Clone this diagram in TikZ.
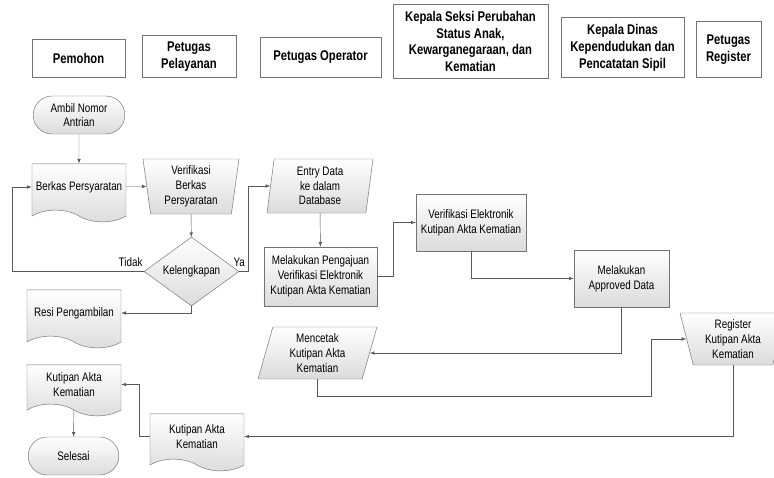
\documentclass[tikz,border=0pt]{standalone}
\usepackage{fontspec}
\setmainfont{Liberation Sans}[FakeStretch=0.8]
\usetikzlibrary{shapes.geometric,shapes.misc,shapes.symbols}
\tikzset{%
  laneHead/.style={rectangle, draw=black!55, fill=white, thick, anchor=south, align=center, inner sep=1pt, font=\fontsize{12}{14.4}\selectfont\bfseries},
  %
  flowShape/.style={draw=black!55, top color=white, bottom color=black!14, align=center, inner sep=1pt, font=\fontsize{10.5}{12.6}\selectfont},
  terminal/.style={flowShape, rounded rectangle},
  processBox/.style={flowShape, rectangle},
  docShape/.style={flowShape, tape, tape bend top=none, tape bend bottom=out and in, tape bend height=10pt},
  manualOp/.style={flowShape, trapezium, shape border rotate=180, trapezium stretches body},
  ioShape/.style={flowShape, trapezium, trapezium stretches body},
  decision/.style={flowShape, diamond, inner sep=0pt},
  % connectors
  flowArrow/.style={draw=black!65, -latex},
  edgeLabel/.style={font=\fontsize{10.5}{12.6}\selectfont, inner sep=1pt}}

\begin{document}
\begin{tikzpicture}[x=0.03cm, y=-0.03cm]
    \useasboundingbox (0,0) rectangle (774,478);

    % lane headers
    \node[laneHead, minimum width=2.79cm, minimum height=1.14cm] (hPemohon) at (78.5,78) {Pemohon};
    \node[laneHead, minimum width=2.82cm, minimum height=1.26cm] (hPelayanan) at (189,78) {Petugas\\Pelayanan};
    \node[laneHead, minimum width=3.63cm, minimum height=1.2cm] (hOperator) at (320.5,78) {Petugas Operator};
    \node[laneHead, minimum width=4.65cm, minimum height=2.22cm] (hSeksi) at (470.5,79) {Kepala Seksi Perubahan\\Status Anak,\\Kewarganegaraan, dan\\Kematian};
    \node[laneHead, minimum width=3.69cm, minimum height=1.8cm] (hDinas) at (622.5,78) {Kepala Dinas\\Kependudukan dan\\Pencatatan Sipil};
    \node[laneHead, minimum width=1.95cm, minimum height=1.68cm] (hRegister) at (728.5,78) {Petugas\\Register};

    % steps
    \node[terminal, minimum width=2.82cm, minimum height=1.14cm] (ambil) at (79,115) {Ambil Nomor\\Antrian};
    \node[docShape, minimum width=2.82cm, minimum height=1.74cm] (berkas) at (79,187) {Berkas Persyaratan};
    \node[manualOp, trapezium left angle=80, trapezium right angle=80, minimum width=2.88cm, minimum height=1.65cm] (verif) at (191,186.5) {Verifikasi\\Berkas\\Persyaratan};
    \node[decision, minimum width=2.85cm, minimum height=1.71cm] (kelengkapan) at (191.5,271.5) {Kelengkapan};
    \node[docShape, minimum width=2.82cm, minimum height=1.74cm] (resi) at (74,313) {Resi Pengambilan};

    \node[ioShape, trapezium left angle=80, trapezium right angle=100, minimum width=3.18cm, minimum height=1.62cm] (entry) at (320,186) {Entry Data\\ke dalam\\Database};
    \node[processBox, minimum width=3.39cm, minimum height=1.77cm] (pengajuan) at (320.5,276.5) {Melakukan Pengajuan\\Verifikasi Elektronik\\Kutipan Akta Kematian};
    \node[processBox, minimum width=3.3cm, minimum height=1.71cm] (verEl) at (471,222.5) {Verifikasi Elektronik\\Kutipan Akta Kematian};
    \node[processBox, minimum width=2.85cm, minimum height=1.71cm] (approved) at (621.5,278.5) {Melakukan\\Approved Data};
    \node[ioShape, trapezium left angle=70, trapezium right angle=110, minimum width=3.57cm, minimum height=1.56cm] (mencetak) at (317.5,353) {Mencetak\\Kutipan Akta\\Kematian};
    \node[manualOp, trapezium left angle=72, trapezium right angle=72, minimum width=3.18cm, minimum height=1.56cm] (register) at (733,339) {Register\\Kutipan Akta\\Kematian};
    \node[docShape, minimum width=2.82cm, minimum height=1.71cm] (kutipanB) at (197,436.5) {Kutipan Akta\\Kematian};
    \node[docShape, minimum width=2.82cm, minimum height=1.53cm] (kutipanA) at (74,384.5) {Kutipan Akta\\Kematian};
    \node[terminal, minimum width=2.79cm, minimum height=1.14cm] (selesai) at (73.5,456) {Selesai};

    \coordinate (tidakX) at (12,187);
    \coordinate (regTurn) at (651,396);

    \draw[flowArrow] (ambil) -- (berkas);
    \draw[flowArrow] (berkas.east |- verif) -- (verif);
    \draw[flowArrow] (verif) -- (kelengkapan);
    \draw[flowArrow] (kelengkapan.west) -- node[edgeLabel, above=3pt, pos=0.1]{Tidak} (tidakX |- kelengkapan) |- (berkas.west |- tidakX);
    \draw[flowArrow] (kelengkapan.east) -- node[edgeLabel, above=3pt, pos=0]{Ya} ++(9,0) |- (entry);
    \draw[flowArrow] (kelengkapan.south) |- (resi);
    \draw[flowArrow] (entry) -- (pengajuan);
    \draw[flowArrow] (pengajuan.east) -- ++(16,0) |- (verEl);
    \draw[flowArrow] (verEl.south) |- (approved);
    \draw[flowArrow] (approved.south) |- (mencetak);
    \draw[flowArrow] (mencetak.south) |- (regTurn) |- (register);
    \draw[flowArrow] (register) |- (kutipanB);
    \draw[flowArrow] (kutipanB.west) -- ++(-11,0) |- (kutipanA);
    \draw[flowArrow] (kutipanA) -- (selesai);
\end{tikzpicture}
\end{document}
